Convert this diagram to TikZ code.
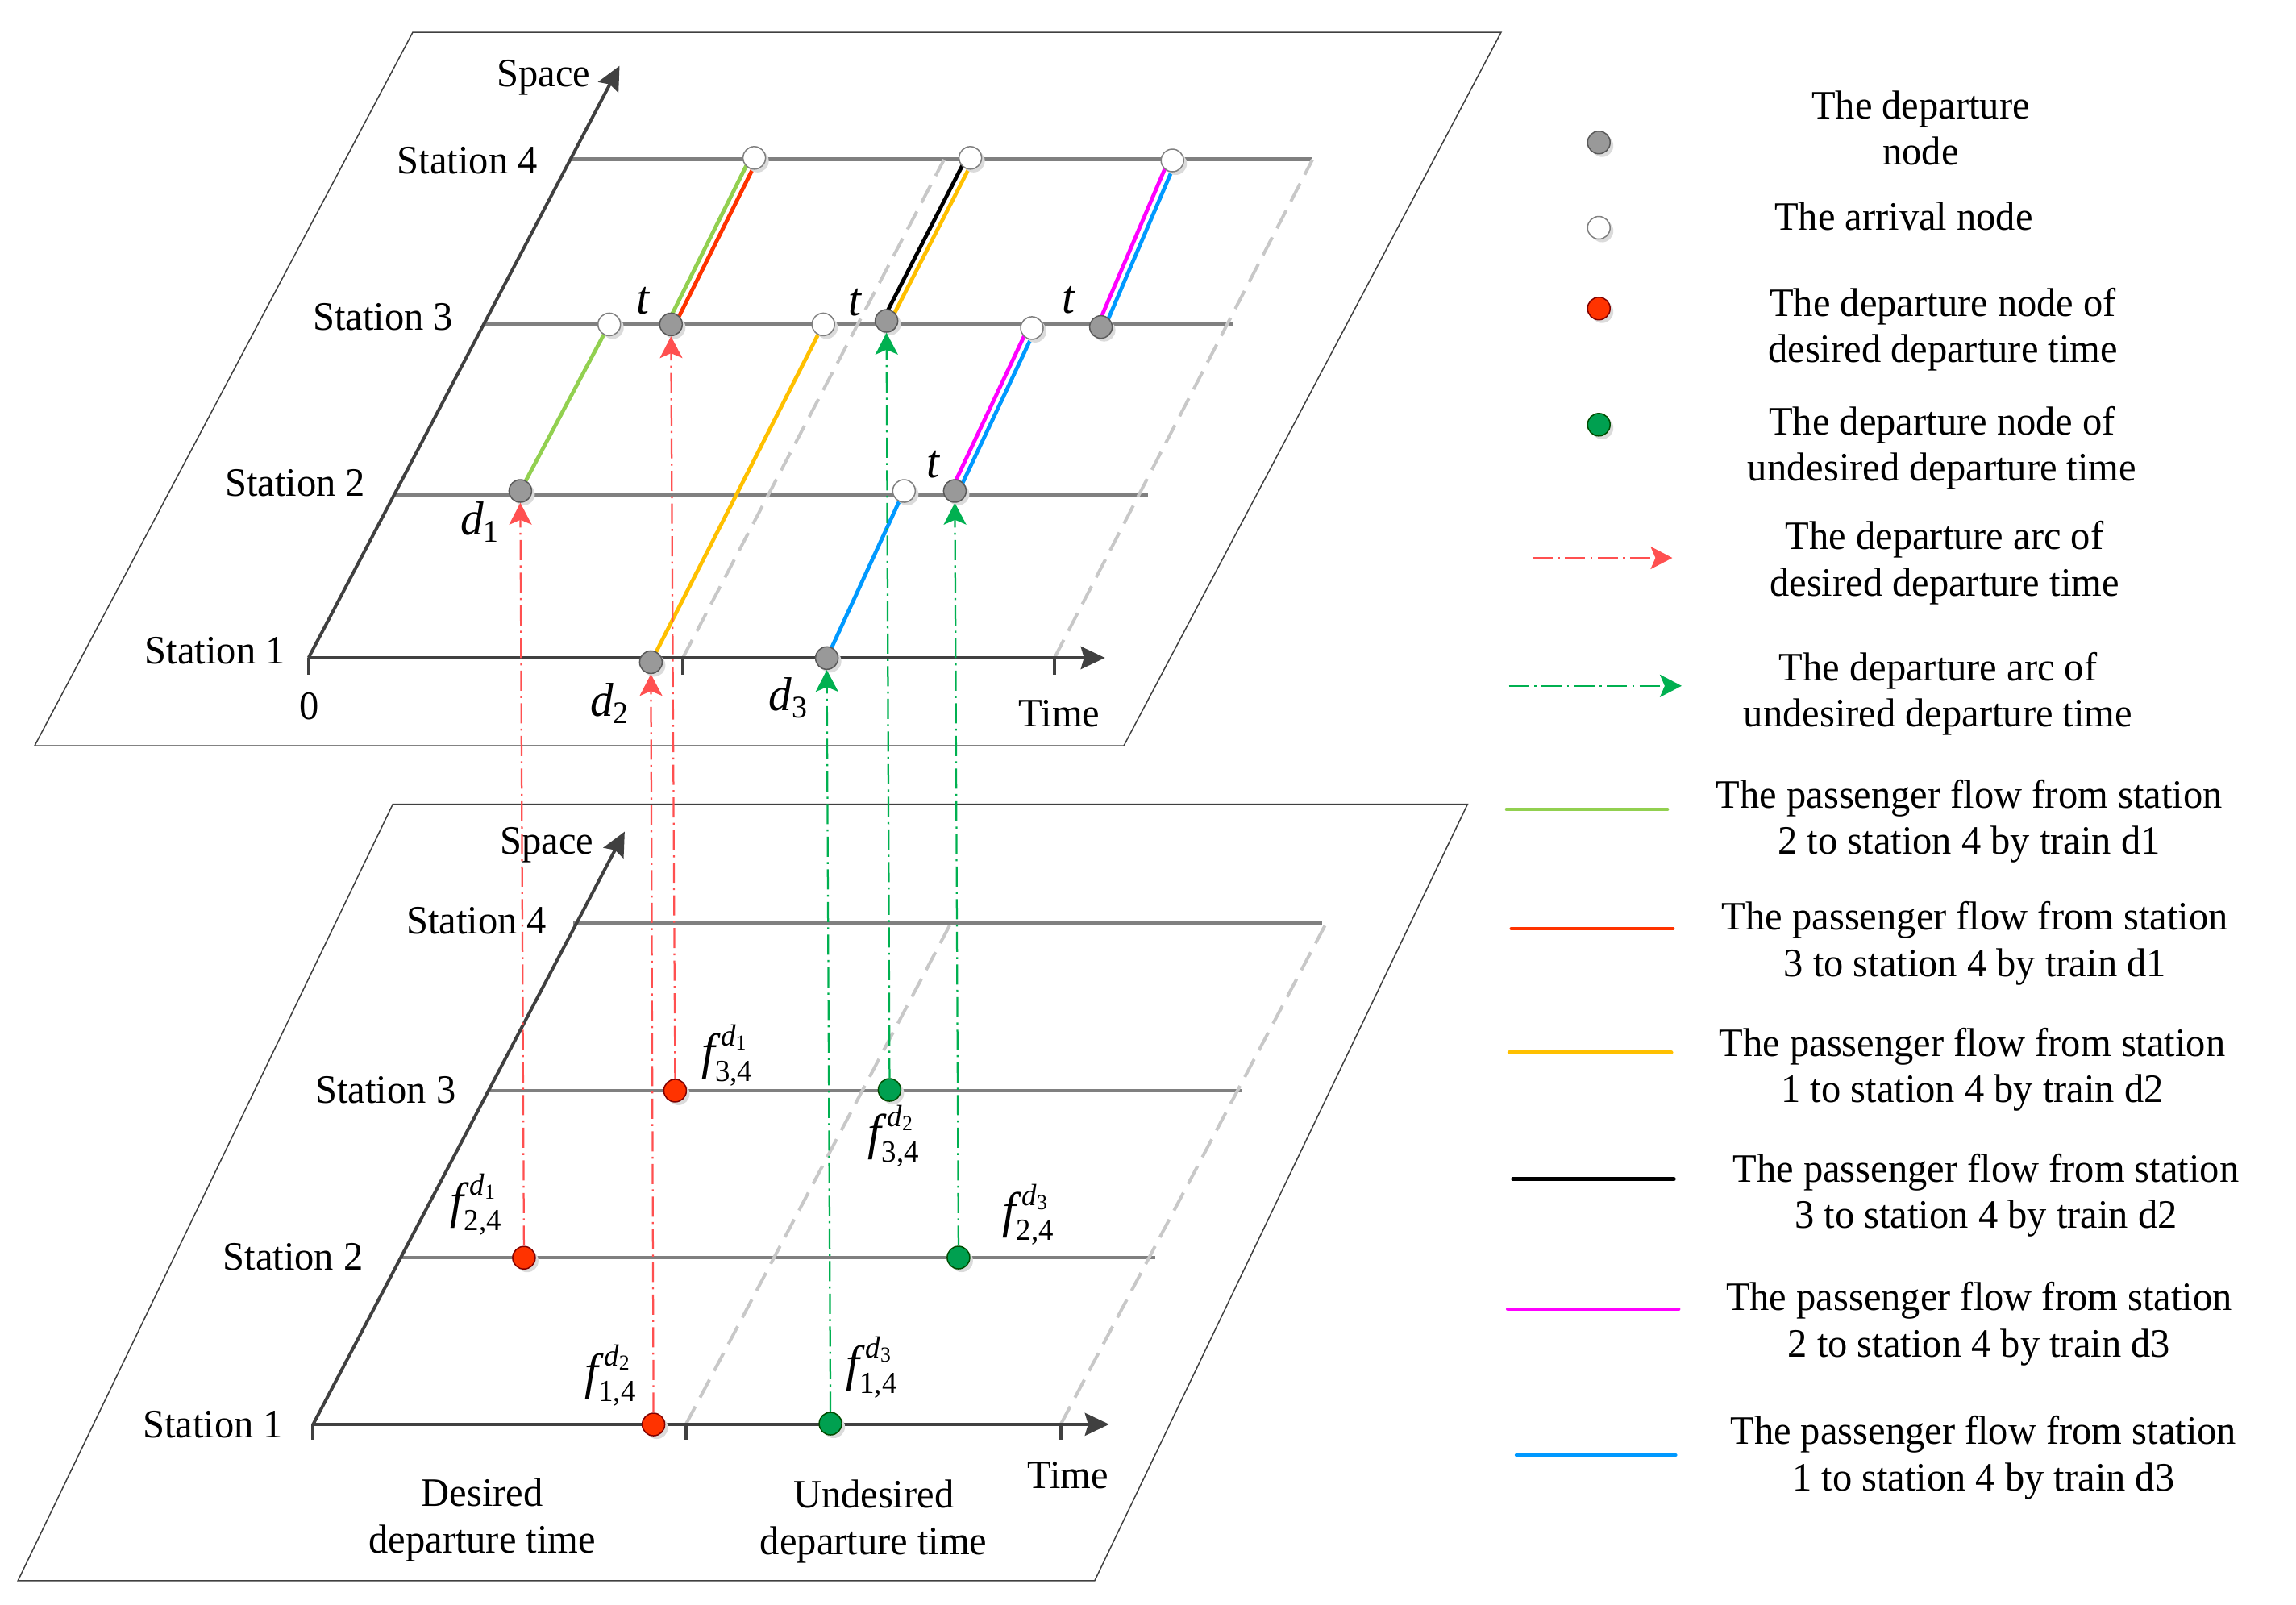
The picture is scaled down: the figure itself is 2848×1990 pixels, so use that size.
\documentclass[tikz,border=0pt]{standalone}
\usepackage{fontspec}
\setmainfont[FakeStretch=0.97]{Liberation Serif}
\usepackage{amsmath}
\usetikzlibrary{arrows.meta,calc,shadows}
\DeclareMathSizes{12.4}{12.4}{7.6}{5.3}
\DeclareMathSizes{11.8}{11.8}{7.8}{5.4}
\definecolor{axisc}{HTML}{404040}
\definecolor{stline}{HTML}{808080}
\definecolor{dashg}{HTML}{C8C8C8}
\definecolor{arcred}{HTML}{FF5050}
\definecolor{arcgreen}{HTML}{00B050}
\definecolor{nodered}{HTML}{FF3300}
\definecolor{nodegreen}{HTML}{00A050}
\definecolor{nodegray}{HTML}{999999}
\definecolor{fgreen}{HTML}{92D050}
\definecolor{fred}{HTML}{FF3300}
\definecolor{forange}{HTML}{FFC000}
\definecolor{fmag}{HTML}{FF00FF}
\definecolor{fblue}{HTML}{0099FF}
\begin{document}
\begin{tikzpicture}[x=0.2pt,y=-0.2pt,
  plane/.style={draw=axisc,line width=0.3pt},
  axisline/.style={draw=axisc,line width=0.8pt},
  axisarrow/.style={axisline,-{Stealth[length=6pt,width=5.6pt,inset=0.8pt]}},
  stationln/.style={draw=stline,line width=0.9pt},
  tickln/.style={draw=axisc,line width=0.8pt},
  guide/.style={draw=dashg,line width=0.8pt,dash pattern=on 5pt off 2.5pt},
  flow/.style={line width=0.95pt},
  dot/.style={circle,minimum size=5.6pt,inner sep=0pt,line width=0.3pt,
    drop shadow={shadow xshift=0.8pt,shadow yshift=-0.8pt,fill=black!14,opacity=1}},
  depnode/.style={dot,fill=nodegray,draw=black!65},
  arrnode/.style={dot,fill=white,draw=black!50},
  rednode/.style={dot,fill=nodered,draw=red!50!black},
  grnnode/.style={dot,fill=nodegreen,draw=green!30!black},
  arcline/.style={line width=0.45pt,dash pattern=on 5pt off 1.3pt on 0.5pt off 1.3pt,
    -{Stealth[length=5.4pt,width=5.6pt,inset=1.2pt]}},
  redarc/.style={arcline,draw=arcred},
  greenarc/.style={arcline,draw=arcgreen},
  lbl/.style={inner sep=0pt,font=\fontsize{10}{11.5}\selectfont},
  leg/.style={lbl,anchor=north,align=center},
  stlbl/.style={lbl,anchor=north east},
  dlbl/.style={inner sep=0pt,font=\fontsize{11.8}{13}\selectfont},
  flbl/.style={inner sep=0pt,font=\fontsize{12.4}{14}\selectfont}
]
\useasboundingbox (0,0) rectangle (2848,1990);

% ---------------- top plane ----------------
\draw[plane] (43,925) -- (1394,925) -- (1862,40) -- (512,40) -- cycle;
\coordinate (O1) at (382.7,816);
\coordinate (S1) at (768.5,81.6);
\coordinate (T1) at (1370.7,816);
\draw[stationln] (706.6,197.7) -- (1628,197.7);
\draw[stationln] (599.5,402.4) -- (1529.5,402.4);
\draw[stationln] (488,613.5) -- (1424,613.5);
\draw[guide] (847,816) -- (1171,198);
\draw[guide] (1308,816) -- (1628,198);
\draw[axisarrow] (O1) -- (S1);
\draw[axisarrow] (O1) -- (T1);
\draw[tickln] (382.7,816) -- (382.7,837);
\draw[tickln] (847,816) -- (847,837);
\draw[tickln] (1308,816) -- (1308,837);

% node positions
\coordinate (pgA) at (645.4,609);
\coordinate (pwA) at (755.7,402.4);
\coordinate (pgB) at (832.3,402.4);
\coordinate (pwB) at (935.6,195.8);
\coordinate (pgC) at (807.4,821.4);
\coordinate (pwC) at (1021.2,402.4);
\coordinate (pgD) at (1099.6,398);
\coordinate (pwD) at (1203.6,195.8);
\coordinate (pgE) at (1025.6,816.3);
\coordinate (pwE) at (1121.3,609);
\coordinate (pgF) at (1184.4,609);
\coordinate (pwF) at (1280,406.9);
\coordinate (pgG) at (1365.6,405.6);
\coordinate (pwG) at (1454.2,199);

% flows
\draw[flow,fgreen] (pgA) -- (pwA);
\draw[flow,fgreen] ($(pgB)+(-4,-2)$) -- ($(pwB)+(-4,-2)$);
\draw[flow,fred] ($(pgB)+(4,2)$) -- ($(pwB)+(4,2)$);
\draw[flow,forange] (pgC) -- (pwC);
\draw[flow,black] ($(pgD)+(-4,-2)$) -- ($(pwD)+(-4,-2)$);
\draw[flow,forange] ($(pgD)+(4,2)$) -- ($(pwD)+(4,2)$);
\draw[flow,fblue] (pgE) -- (pwE);
\draw[flow,fmag] ($(pgF)+(-4,-2)$) -- ($(pwF)+(-4,-2)$);
\draw[flow,fblue] ($(pgF)+(4,2)$) -- ($(pwF)+(4,2)$);
\draw[flow,fmag] ($(pgG)+(-4,-2)$) -- ($(pwG)+(-4,-2)$);
\draw[flow,fblue] ($(pgG)+(4,2)$) -- ($(pwG)+(4,2)$);

\node[depnode] (gA) at (pgA) {};
\node[arrnode] (wA) at (pwA) {};
\node[depnode] (gB) at (pgB) {};
\node[arrnode] (wB) at (pwB) {};
\node[depnode] (gC) at (pgC) {};
\node[arrnode] (wC) at (pwC) {};
\node[depnode] (gD) at (pgD) {};
\node[arrnode] (wD) at (pwD) {};
\node[depnode] (gE) at (pgE) {};
\node[arrnode] (wE) at (pwE) {};
\node[depnode] (gF) at (pgF) {};
\node[arrnode] (wF) at (pwF) {};
\node[depnode] (gG) at (pgG) {};
\node[arrnode] (wG) at (pwG) {};

% top labels
\node[lbl,anchor=north] (sp1) at (674.4,73.3) {Space};
\node[stlbl] (s14) at (667.7,181.8) {Station 4};
\node[stlbl] (s13) at (563.1,375) {Station 3};
\node[stlbl] (s12) at (454.1,581.6) {Station 2};
\node[stlbl] (s11) at (354.6,788.9) {Station 1};
\node[lbl,anchor=north] (zero) at (383.3,857.8) {0};
\node[lbl,anchor=north] (time1) at (1313.9,867.3) {Time};
\node[dlbl] (d1) at (596.3,648) {$\textit{d}_{\text{1}}$};
\node[dlbl] (d2) at (757.3,872) {$\textit{d}_{\text{2}}$};
\node[dlbl] (d3) at (978.4,865.7) {$\textit{d}_{\text{3}}$};
\node[dlbl] (t1) at (798.5,373.1) {\textit{t}};
\node[dlbl] (t2) at (1060.7,375) {\textit{t}};
\node[dlbl] (t3) at (1326,371.8) {\textit{t}};
\node[dlbl] (t4) at (1157.7,575.9) {\textit{t}};

% ---------------- bottom plane ----------------
\draw[plane] (22.3,1960.7) -- (1357.9,1960.7) -- (1820.3,997.7) -- (487.2,997.7) -- cycle;
\coordinate (O2) at (388.4,1766.8);
\coordinate (S2) at (774.9,1031.5);
\coordinate (T2) at (1375.8,1766.8);
\draw[stationln] (711,1145.6) -- (1639.8,1145.6);
\draw[stationln] (604.6,1352.9) -- (1539.7,1352.9);
\draw[stationln] (496.2,1560.2) -- (1432.5,1560.2);
\draw[guide] (850.8,1766.8) -- (1180.6,1143);
\draw[guide] (1315.8,1766.8) -- (1646.2,1143);
\draw[axisarrow] (O2) -- (S2);
\draw[axisarrow] (O2) -- (T2);
\draw[tickln] (388.4,1766.8) -- (388.4,1786);
\draw[tickln] (850.8,1766.8) -- (850.8,1786);
\draw[tickln] (1315.8,1766.8) -- (1315.8,1786);

\node[rednode] (rA) at (649.9,1560.2) {};
\node[rednode] (rB) at (837.4,1352.9) {};
\node[rednode] (rC) at (810.6,1767) {};
\node[grnnode] (nA) at (1103.4,1352) {};
\node[grnnode] (nB) at (1188.9,1560) {};
\node[grnnode] (nC) at (1030.1,1766) {};

\node[lbl,anchor=north] (sp2) at (678.6,1025) {Space};
\node[stlbl] (s24) at (679.2,1123.9) {Station 4};
\node[stlbl] (s23) at (566.3,1334.4) {Station 3};
\node[stlbl] (s22) at (451.5,1541.7) {Station 2};
\node[stlbl] (s21) at (352,1748.9) {Station 1};
\node[leg] (des) at (598.2,1833) {Desired\\departure time};
\node[leg] (undes) at (1083.7,1835) {Undesired\\departure time};
\node[lbl,anchor=north] (time2) at (1324.7,1812.7) {Time};
\node[flbl] (f24a) at (591.5,1494) {$\textit{f}^{\,\textit{d}_{\text{1}}}_{\text{2,4}}$};
\node[flbl] (f34a) at (903,1309) {$\textit{f}^{\,\textit{d}_{\text{1}}}_{\text{3,4}}$};
\node[flbl] (f14b) at (758.3,1706) {$\textit{f}^{\,\textit{d}_{\text{2}}}_{\text{1,4}}$};
\node[flbl] (f34b) at (1109.5,1409.3) {$\textit{f}^{\,\textit{d}_{\text{2}}}_{\text{3,4}}$};
\node[flbl] (f24c) at (1276.6,1506.6) {$\textit{f}^{\,\textit{d}_{\text{3}}}_{\text{2,4}}$};
\node[flbl] (f14c) at (1082.4,1696.3) {$\textit{f}^{\,\textit{d}_{\text{3}}}_{\text{1,4}}$};

% departure arcs
\draw[redarc] (rA.north) -- (gA.south);
\draw[redarc] (rB.north) -- (gB.south);
\draw[redarc] (rC.north) -- (gC.south);
\draw[greenarc] (nA.north) -- (gD.south);
\draw[greenarc] (nB.north) -- (gF.south);
\draw[greenarc] (nC.north) -- (gE.south);

% ---------------- legend ----------------
\node[depnode] (lg1) at (1983.2,176.7) {};
\node[arrnode] (lg2) at (1983.2,282.5) {};
\node[rednode] (lg3) at (1983.2,382.7) {};
\node[grnnode] (lg4) at (1983.2,526.8) {};
\coordinate (la1) at (1900.9,692);  \coordinate (la2) at (2074.4,692);
\coordinate (lb1) at (1871.6,850.8); \coordinate (lb2) at (2085.9,850.8);
\draw[redarc] (la1) -- (la2);
\draw[greenarc] (lb1) -- (lb2);
\coordinate (lc1) at (1869,1004);   \coordinate (lc2) at (2068,1004);
\coordinate (ld1) at (1874.8,1152); \coordinate (ld2) at (2075,1152);
\coordinate (le1) at (1872.2,1305.7); \coordinate (le2) at (2073.1,1305.7);
\coordinate (lf1) at (1876.7,1462.6); \coordinate (lf2) at (2076.3,1462.6);
\coordinate (lh1) at (1870.3,1623.9); \coordinate (lh2) at (2082,1623.9);
\coordinate (li1) at (1881.2,1805); \coordinate (li2) at (2078.2,1805);
\draw[flow,fgreen,line cap=round] (lc1) -- (lc2);
\draw[flow,fred,line cap=round] (ld1) -- (ld2);
\draw[flow,forange,line cap=round] (le1) -- (le2);
\draw[flow,black,line cap=round] (lf1) -- (lf2);
\draw[flow,fmag,line cap=round] (lh1) -- (lh2);
\draw[flow,fblue,line cap=round] (li1) -- (li2);

\node[leg] (lt1) at (2382.4,111.6) {The departure\\node};
\node[leg] (lt2) at (2361.4,250) {The arrival node};
\node[leg] (lt3) at (2410,355.9) {The departure node of\\desired departure time};
\node[leg] (lt4) at (2409,503.2) {The departure node of\\undesired departure time};
\node[leg] (lt5) at (2412,645.4) {The departure arc of\\desired departure time};
\node[leg] (lt6) at (2404,808) {The departure arc of\\undesired departure time};
\node[leg] (lt7) at (2442.6,966.2) {The passenger flow from station\\2 to station 4 by train d1};
\node[leg] (lt8) at (2449.7,1117.6) {The passenger flow from station\\3 to station 4 by train d1};
\node[leg] (lt9) at (2446.5,1273.8) {The passenger flow from station\\1 to station 4 by train d2};
\node[leg] (lt10) at (2463.4,1430) {The passenger flow from station\\3 to station 4 by train d2};
\node[leg] (lt11) at (2454.8,1589.5) {The passenger flow from station\\2 to station 4 by train d3};
\node[leg] (lt12) at (2460.2,1755.3) {The passenger flow from station\\1 to station 4 by train d3};
\end{tikzpicture}
\end{document}
